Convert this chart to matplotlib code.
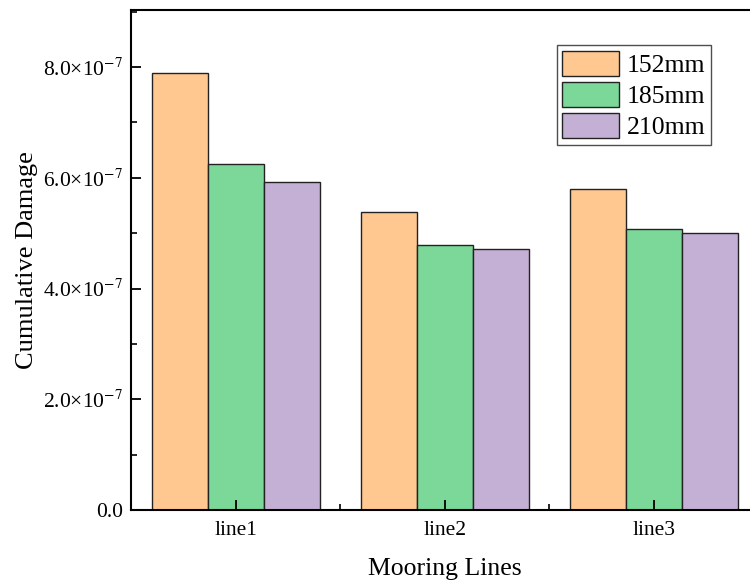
import numpy as np
import matplotlib
matplotlib.use("Agg")
import matplotlib.pyplot as plt
from matplotlib.ticker import FuncFormatter, MultipleLocator, FixedLocator

# データ
lines = ['line1', 'line2', 'line3']
sizes = ['152mm', '185mm', '210mm']
d152 = [7.90e-7, 5.38e-7, 5.79e-7]
d185 = [6.25e-7, 4.79e-7, 5.07e-7]
d210 = [5.92e-7, 4.72e-7, 5.01e-7]
colors = ['#FFC891', '#7BD898', '#C4B0D4']

plt.rcParams['font.family'] = ['Liberation Serif', 'DejaVu Serif']
plt.rcParams['mathtext.fontset'] = 'stix'

fig = plt.figure(figsize=(7.5, 5.83), dpi=100)
ax = fig.add_axes([0.1753, 0.1252, 0.836, 0.8576])

x = np.arange(len(lines))
w = 0.8 / 3
for i, (vals, lab) in enumerate(zip([d152, d185, d210], sizes)):
    ax.bar(x + (i - 1) * w, vals, width=w, color=colors[i], edgecolor='#222222',
           linewidth=1.0, label=lab)

ax.set_xlim(-0.5, 2.5)
ax.set_ylim(0, 9.03e-7)

ax.set_xticks(x)
ax.set_xticklabels(lines)
ax.xaxis.set_minor_locator(FixedLocator([0.5, 1.5]))
ax.yaxis.set_major_locator(MultipleLocator(2e-7))
ax.yaxis.set_minor_locator(MultipleLocator(1e-7))


def fmt(v, pos):
    if abs(v) < 1e-12:
        return '0.0'
    return '%.1f×10$^{-7}$' % (v / 1e-7)


ax.yaxis.set_major_formatter(FuncFormatter(fmt))
ax.tick_params(which='major', direction='in', length=7, width=1.3, labelsize=15.5, pad=6)
ax.tick_params(which='minor', direction='in', length=4, width=1.2)
ax.tick_params(axis='x', which='major', pad=8)
for s in ax.spines.values():
    s.set_linewidth(1.5)

ax.set_xlabel('Mooring Lines', fontsize=18.5, labelpad=13)
ax.set_ylabel('Cumulative Damage', fontsize=19, labelpad=4)

leg = ax.legend(loc='upper right', bbox_to_anchor=(0.924, 0.93), borderaxespad=0,
                fontsize=18.5, fancybox=False, frameon=True, edgecolor='#222222',
                handlelength=2.2, handleheight=1.15, handletextpad=0.3,
                labelspacing=0.18, borderpad=0.22)
leg.get_frame().set_linewidth(1.0)

fig.savefig('out.png', dpi=100)
